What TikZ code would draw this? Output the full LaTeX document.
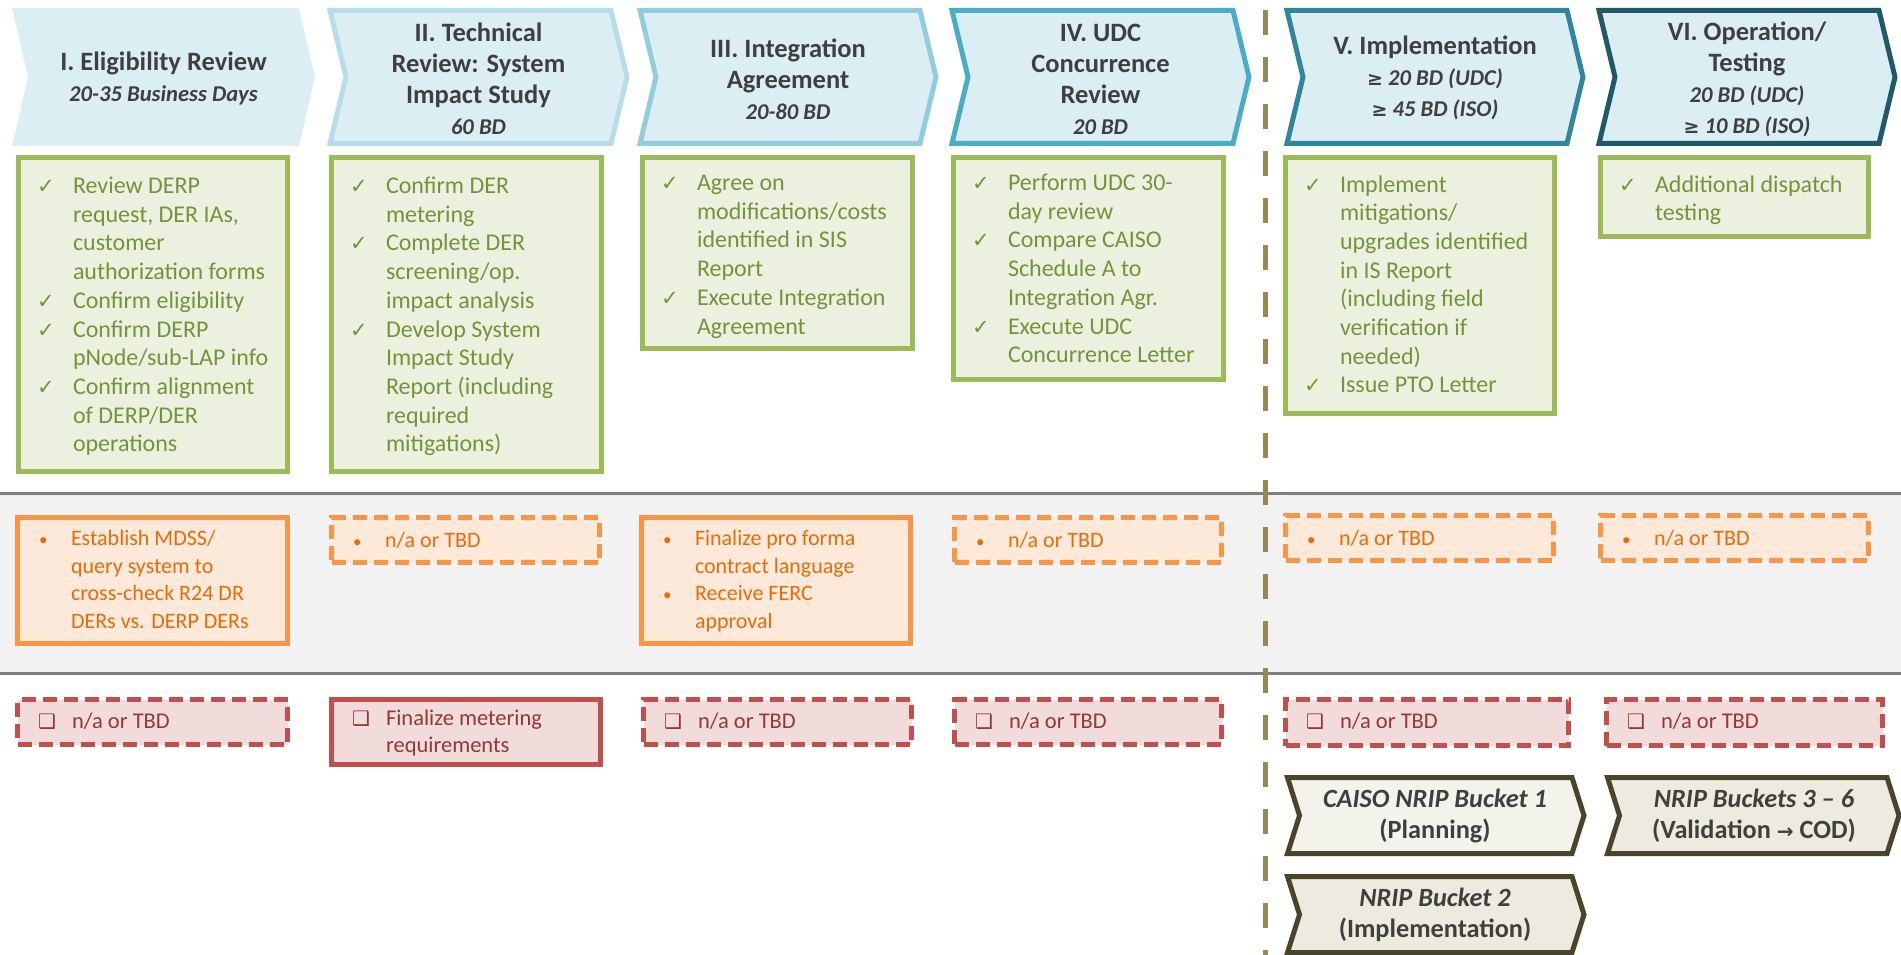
\documentclass[tikz,border=0pt]{standalone}
\usepackage{fontspec}
\setmainfont{Carlito}
\newfontfamily\djv{DejaVu Sans}
\usetikzlibrary{calc}
\definecolor{hdrfill}{HTML}{DBEEF4}
\definecolor{hdrtext}{HTML}{3F3F3F}
\definecolor{c2}{HTML}{B7DEE8}
\definecolor{c3}{HTML}{93CDDD}
\definecolor{c4}{HTML}{4BACC6}
\definecolor{c5}{HTML}{31859C}
\definecolor{c6}{HTML}{215968}
\definecolor{gline}{HTML}{9BBB59}
\definecolor{gfill}{HTML}{EBF1DE}
\definecolor{gtext}{HTML}{76923C}
\definecolor{oline}{HTML}{F79646}
\definecolor{ofill}{HTML}{FDE9D9}
\definecolor{otext}{HTML}{E46C0A}
\definecolor{rline}{HTML}{C0504D}
\definecolor{rfill}{HTML}{F2DCDB}
\definecolor{rtext}{HTML}{953735}
\definecolor{bandfill}{HTML}{F2F2F2}
\definecolor{bandline}{HTML}{7F7F7F}
\definecolor{divline}{HTML}{948A54}
\definecolor{nline}{HTML}{4A452A}
\definecolor{nfillA}{HTML}{F3F2EB}
\definecolor{nfillB}{HTML}{EDEBE0}

\newcommand\sub[1]{{\fontsize{22.6}{31}\selectfont\itshape #1}}
\newcommand\myge{{\djv\fontsize{19}{31}\selectfont ≥}}
\newcommand\myar{{\djv\fontsize{20}{31}\selectfont →}}
\newcommand\ck{\makebox[36pt][l]{\djv\fontsize{21}{20}\selectfont ✓}}
\newcommand\bu{\makebox[32pt][l]{\fontsize{17}{18}\selectfont •}}
\newcommand\cb{\makebox[34pt][l]{\djv\fontsize{20}{18}\selectfont ❑}}
% style, xl, xr, depth, top, bottom
\newcommand\chev[6]{\draw[#1] (#2,#5) -- (#3,#5) -- ({#3+#4},{(#5+#6)/2}) -- (#3,#6) -- (#2,#6) -- ({#2+#4},{(#5+#6)/2}) -- cycle;}
% style, x1, y1, x2, y2 (outer), name
\newcommand\mybox[6]{\node[#1, anchor=north west, minimum width={#4-#2-5}, minimum height={#5-#3-5}] (#6) at ({#2+2.5},{#3+2.5}) {};}

\tikzset{
  every node/.style={inner sep=0pt, outer sep=0pt},
  hdrplain/.style={fill=hdrfill, draw=none},
  hdr/.style={fill=hdrfill, line width=5pt, line join=miter},
  htxt/.style={align=center, text=hdrtext, font=\fontsize{26.5}{31}\selectfont\bfseries},
  gbox/.style={rectangle, draw=gline, fill=gfill, line width=5pt},
  obox/.style={rectangle, draw=oline, fill=ofill, line width=5pt},
  odash/.style={obox, dash pattern=on 14pt off 7pt},
  rbox/.style={rectangle, draw=rline, fill=rfill, line width=5pt},
  rdash/.style={rbox, dash pattern=on 14pt off 7pt},
  gtxt/.style={anchor=north west, text=gtext, font=\fontsize{24}{28.7}\selectfont},
  otxt/.style={anchor=north west, text=otext, font=\fontsize{22}{27.5}\selectfont},
  rtxt/.style={anchor=north west, text=rtext, font=\fontsize{22.5}{27}\selectfont},
  nrip/.style={draw=nline, line width=5pt, line join=miter},
  ntxt/.style={align=center, text=hdrtext, font=\fontsize{26.3}{31}\selectfont\bfseries},
  divider/.style={draw=divline, line width=5pt, dash pattern=on 25pt off 22pt},
}

\begin{document}
\begin{tikzpicture}[x=1pt, y=-1pt]
\useasboundingbox (0,0) rectangle (1901,955);
\fill[white] (0,0) rectangle (1901,955);

% ---- gray band ----
\fill[bandfill] (0,493) rectangle (1901,673);
\coordinate (bl1) at (0,493); \coordinate (br1) at (1901,493);
\coordinate (bl2) at (0,673); \coordinate (br2) at (1901,673);
\draw[bandline, line width=3pt] (bl1) -- (br1);
\draw[bandline, line width=3pt] (bl2) -- (br2);

% ---- header chevrons ----
\chev{hdrplain}{12}{299}{16}{8}{146}
\chev{hdr, draw=c2}{330}{611}{16}{10.5}{143.5}
\chev{hdr, draw=c3}{640}{920}{16}{10.5}{143.5}
\chev{hdr, draw=c4}{952}{1233}{16}{10.5}{143.5}
\chev{hdr, draw=c5}{1287}{1567}{16}{10.5}{143.5}
\chev{hdr, draw=c6}{1599}{1879}{16}{10.5}{143.5}

\node[htxt] (h1) at (163.5,78) {I. Eligibility Review\\\sub{20-35 Business Days}};
\node[htxt] (h2) at (478.5,79) {II. Technical\\Review: System\\Impact Study\\\sub{60 BD}};
\node[htxt] (h3) at (788,79) {III. Integration\\Agreement\\\sub{20-80 BD}};
\node[htxt] (h4) at (1100.5,79) {IV. UDC\\Concurrence\\Review\\\sub{20 BD}};
\node[htxt] (h5) at (1435,78) {V. Implementation\\\sub{\myge{} 20 BD (UDC)}\\\sub{\myge{} 45 BD (ISO)}};
\node[htxt] (h6) at (1747,79) {VI. Operation/\\Testing\\\sub{20 BD (UDC)}\\\sub{\myge{} 10 BD (ISO)}};

% ---- green boxes ----
\mybox{gbox}{16}{155}{290}{474}{g1}
\mybox{gbox}{329}{155}{604}{474}{g2}
\mybox{gbox}{640}{155}{915}{351}{g3}
\mybox{gbox}{951}{155}{1226}{382}{g4}
\mybox{gbox}{1283}{155}{1557}{416}{g5}
\mybox{gbox}{1598}{155}{1871}{239}{g6}

\node[gtxt] (g1t) at ($(g1.north west)+(18.5,16)$) {\begin{tabular}{@{}l@{}l@{}}
\ck & Review DERP\\
 & request, DER IAs,\\
 & customer\\
 & authorization forms\\
\ck & Confirm eligibility\\
\ck & Confirm DERP\\
 & pNode/sub-LAP info\\
\ck & Confirm alignment\\
 & of DERP/DER\\
 & operations
\end{tabular}};
\node[gtxt] (g2t) at ($(g2.north west)+(18.5,16)$) {\begin{tabular}{@{}l@{}l@{}}
\ck & Confirm DER\\
 & metering\\
\ck & Complete DER\\
 & screening/op.\\
 & impact analysis\\
\ck & Develop System\\
 & Impact Study\\
 & Report (including\\
 & required\\
 & mitigations)
\end{tabular}};
\node[gtxt] (g3t) at ($(g3.north west)+(18.5,13)$) {\begin{tabular}{@{}l@{}l@{}}
\ck & Agree on\\
 & modifications/costs\\
 & identified in SIS\\
 & Report\\
\ck & Execute Integration\\
 & Agreement
\end{tabular}};
\node[gtxt] (g4t) at ($(g4.north west)+(18.5,13)$) {\begin{tabular}{@{}l@{}l@{}}
\ck & Perform UDC 30-\\
 & day review\\
\ck & Compare CAISO\\
 & Schedule A to\\
 & Integration Agr.\\
\ck & Execute UDC\\
 & Concurrence Letter
\end{tabular}};
\node[gtxt] (g5t) at ($(g5.north west)+(18.5,14.5)$) {\begin{tabular}{@{}l@{}l@{}}
\ck & Implement\\
 & mitigations/\\
 & upgrades identified\\
 & in IS Report\\
 & (including field\\
 & verification if\\
 & needed)\\
\ck & Issue PTO Letter
\end{tabular}};
\node[gtxt] (g6t) at ($(g6.north west)+(18.5,14.5)$) {\begin{tabular}{@{}l@{}l@{}}
\ck & Additional dispatch\\
 & testing
\end{tabular}};

% ---- orange boxes ----
\mybox{obox}{15}{515}{290}{646}{o1}
\mybox{odash}{329}{515}{602}{565}{o2}
\mybox{obox}{639}{515}{913}{646}{o3}
\mybox{odash}{952}{515}{1224}{565}{o4}
\mybox{odash}{1283}{513}{1556}{563}{o5}
\mybox{odash}{1598}{513}{1871}{563}{o6}

\node[otxt] (o1t) at ($(o1.north west)+(21.5,9)$) {\begin{tabular}{@{}l@{}l@{}}
\bu & Establish MDSS/\\
 & query system to\\
 & cross-check R24 DR\\
 & DERs vs. DERP DERs
\end{tabular}};
\node[otxt] (o2t) at ($(o2.north west)+(21.5,10.5)$) {\begin{tabular}{@{}l@{}l@{}}\bu & n/a or TBD\end{tabular}};
\node[otxt] (o3t) at ($(o3.north west)+(21.5,9)$) {\begin{tabular}{@{}l@{}l@{}}
\bu & Finalize pro forma\\
 & contract language\\
\bu & Receive FERC\\
 & approval
\end{tabular}};
\node[otxt] (o4t) at ($(o4.north west)+(21.5,10.5)$) {\begin{tabular}{@{}l@{}l@{}}\bu & n/a or TBD\end{tabular}};
\node[otxt] (o5t) at ($(o5.north west)+(21.5,10.5)$) {\begin{tabular}{@{}l@{}l@{}}\bu & n/a or TBD\end{tabular}};
\node[otxt] (o6t) at ($(o6.north west)+(21.5,10.5)$) {\begin{tabular}{@{}l@{}l@{}}\bu & n/a or TBD\end{tabular}};

% ---- red boxes ----
\mybox{rdash}{15}{697}{290}{747}{r1}
\mybox{rbox}{329}{697}{603}{767}{r2}
\mybox{rdash}{641}{697}{914}{747}{r3}
\mybox{rdash}{952}{697}{1224}{747}{r4}
\mybox{rdash}{1283}{697}{1571}{748}{r5}
\mybox{rdash}{1604}{697}{1885}{748}{r6}

\node[rtxt] (r1t) at ($(r1.north west)+(20.5,10.5)$) {\begin{tabular}{@{}l@{}l@{}}\cb & n/a or TBD\end{tabular}};
\node[rtxt] (r2t) at ($(r2.north west)+(20.5,7.5)$) {\begin{tabular}{@{}l@{}l@{}}
\cb & Finalize metering\\
 & requirements
\end{tabular}};
\node[rtxt] (r3t) at ($(r3.north west)+(20.5,10.5)$) {\begin{tabular}{@{}l@{}l@{}}\cb & n/a or TBD\end{tabular}};
\node[rtxt] (r4t) at ($(r4.north west)+(20.5,10.5)$) {\begin{tabular}{@{}l@{}l@{}}\cb & n/a or TBD\end{tabular}};
\node[rtxt] (r5t) at ($(r5.north west)+(20.5,10.5)$) {\begin{tabular}{@{}l@{}l@{}}\cb & n/a or TBD\end{tabular}};
\node[rtxt] (r6t) at ($(r6.north west)+(20.5,10.5)$) {\begin{tabular}{@{}l@{}l@{}}\cb & n/a or TBD\end{tabular}};

% ---- NRIP chevrons ----
\chev{nrip, fill=nfillA}{1287.5}{1572}{12}{777.5}{853.5}
\chev{nrip, fill=nfillB}{1287.5}{1572}{12}{876.5}{952.5}
\chev{nrip, fill=nfillB}{1607.5}{1887}{12}{777.5}{853.5}

\node[ntxt] (n1) at (1435,816) {\itshape CAISO NRIP Bucket 1\\(Planning)};
\node[ntxt] (n2) at (1435,915) {\itshape NRIP Bucket 2\\(Implementation)};
\node[ntxt] (n3) at (1754,816) {\itshape NRIP Buckets 3 – 6\\(Validation \myar{} COD)};

% ---- divider ----
\coordinate (dtop) at (1265,10);
\coordinate (dbot) at (1265,955);
\draw[divider] (dtop) -- (dbot);
\end{tikzpicture}
\end{document}
